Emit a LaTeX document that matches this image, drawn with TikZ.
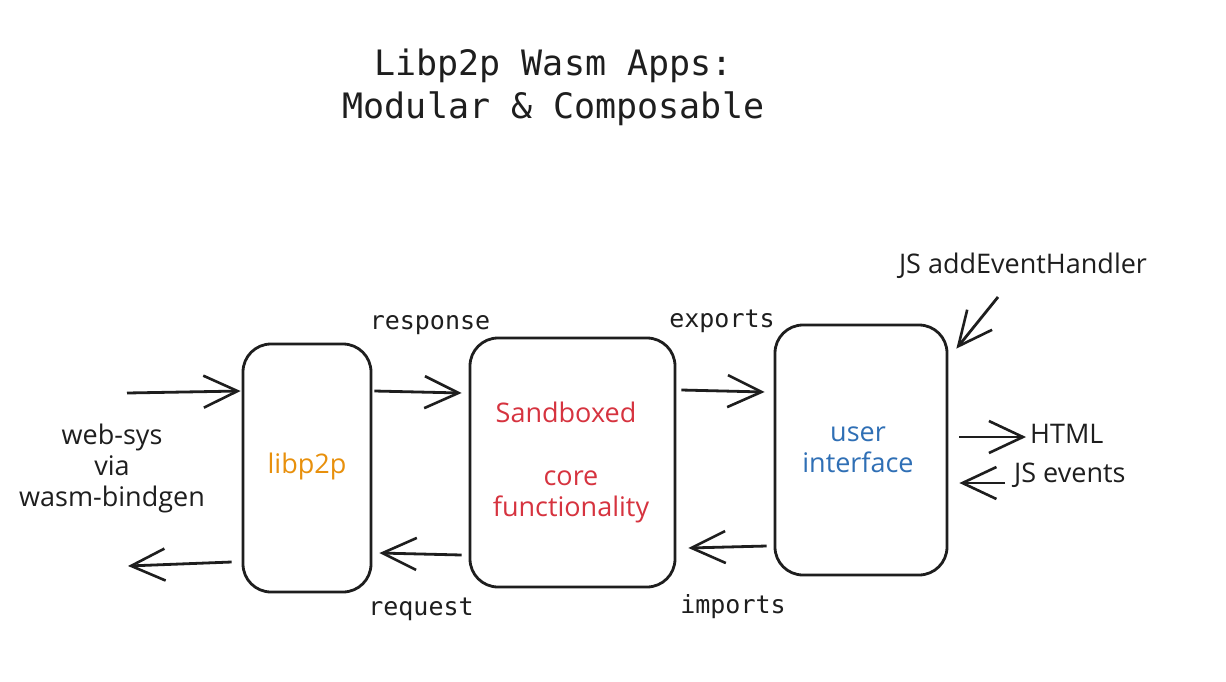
\documentclass[tikz,border=0pt]{standalone}
\usepackage{fontspec}
\setmainfont{Open Sans}
\setmonofont{DejaVu Sans Mono}
\usetikzlibrary{arrows.meta,calc}
\definecolor{ink}{HTML}{1E1E1E}
\definecolor{orng}{HTML}{E8900C}
\definecolor{rd}{HTML}{D6333F}
\definecolor{bl}{HTML}{2F6FB5}
\begin{document}
\begin{tikzpicture}[x=1pt,y=-1pt,
  box/.style={draw=ink, line width=2.8pt, rounded corners=28pt, inner sep=0pt},
  arr/.style={draw=ink, line width=2.8pt, -{Straight Barb[length=34pt,width=32pt,line width=2.6pt]}},
  mono/.style={font=\ttfamily\fontsize{25}{30}\selectfont, text=ink},
  hand/.style={font=\fontsize{27}{31}\selectfont, align=center, text=ink, inner sep=2pt}]
\useasboundingbox (0,0) rectangle (1226,681);
\fill[white] (0,0) rectangle (1226,681);

% title
\node[font=\ttfamily\fontsize{35}{43}\selectfont, align=center, text=ink] (title) at (553.5,87)
  {Libp2p Wasm Apps:\\Modular \& Composable};

% boxes
\node[box, minimum width=128pt, minimum height=248pt] (lib) at (307,468) {};
\node[box, minimum width=205pt, minimum height=249pt] (core) at (572.5,462.5) {};
\node[box, minimum width=172pt, minimum height=250pt] (ui) at (861,450) {};

% box texts
\node[hand, text=orng] (libt) at (307,466) {libp2p};
\node[hand, text=rd] (sandt) at (566,412) {Sandboxed};
\node[hand, text=rd] (coret) at (571,497) {core\\functionality};
\node[hand, text=bl] (uit) at (858,450) {user\\interface};

% side texts
\node[hand] (websys) at (112,468) {web-sys\\via\\wasm-bindgen};
\node[hand, anchor=west] (html) at (1028,434) {HTML};
\node[hand, anchor=west] (jse) at (1012,475) {JS events};
\node[hand] (evh) at (1023,266) {JS addEventHandler};

% mono labels
\node[mono] (resp) at (430,325) {response};
\node[mono] (req) at (421,609) {request};
\node[mono] (exp) at (722,321) {exports};
\node[mono] (imp) at (733,607) {imports};

% free ends
\coordinate (in1) at (127,393);
\coordinate (out1) at (128,566);
\coordinate (ev1) at (998,297);

% connectors
\draw[arr] (in1) -- ($(lib.west)+(-1,-77)$);
\draw[arr] ($(lib.west)+(-10,94)$) -- (out1);
\draw[arr] ($(lib.east)+(2,-77)$) -- ($(core.west)+(-7,-69.5)$);
\draw[arr] ($(core.west)+(-7,92.5)$) -- ($(lib.east)+(7,85)$);
\draw[arr] ($(core.east)+(5,-72.5)$) -- ($(ui.west)+(-9,-58)$);
\draw[arr] ($(ui.west)+(-7,96)$) -- ($(core.east)+(12,85.5)$);
\draw[arr] (ev1) -- ($(ui.north east)+(8,25)$);
\draw[arr] ($(ui.east)+(11,-13)$) -- ($(html.west)+(-2,3)$);
\draw[arr] ($(jse.west)+(-7,8)$) -- ($(ui.east)+(11,33)$);
\end{tikzpicture}
\end{document}
